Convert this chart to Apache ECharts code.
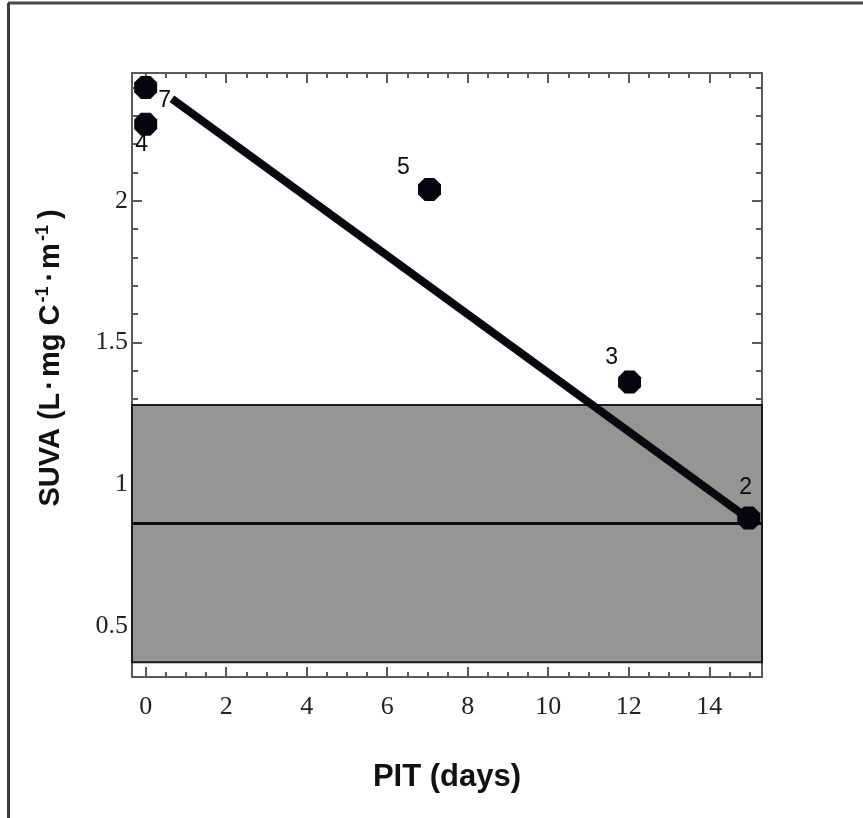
<!DOCTYPE html>
<html>
<head>
<meta charset="utf-8">
<script src="https://cdn.jsdelivr.net/npm/echarts@6/dist/echarts.min.js"></script>
<style>
html,body{margin:0;padding:0;background:#fff;}
#chart{width:863px;height:818px;}
</style>
</head>
<body>
<div id="chart"></div>
<script>
// ---- data ----
const pitDays   = [0, 0, 7.05, 12.02, 14.98];
const suvaVals  = [2.40, 2.27, 2.04, 1.36, 0.88];
const pointIds  = ['7', '4', '5', '3', '2'];
const fitLine   = [[0.65, 2.36], [15.0, 0.875]];
const bandRange = [0.371, 1.279];
const refLevel  = 0.863;
const xTickLabels = [0, 2, 4, 6, 8, 10, 12, 14];
const yTickLabels = [0.5, 1, 1.5, 2];
const X_MIN = -0.34, X_MAX = 15.31;
const Y_MIN = 0.319, Y_MAX = 2.451;

// minor tick positions
const xMinor = [];
for (let i = 0; i <= 30; i++) xMinor.push(i * 0.5);
const yMinor = [];
for (let i = 4; i <= 24; i++) yMinor.push(Math.round(i) / 10);

// label placement (styles, not data)
const labelOffsets = [[19, 13], [-4, 20], [-26, -22], [-18, -24], [-3, -30]];

const axisColor = '#5a5a5a';
const serif = '"Liberation Serif","Times New Roman",serif';
const sans = '"Liberation Sans",Arial,sans-serif';

function xAx(pos, major, showLabel, withName) {
  const a = {
    type: 'value', position: pos, min: X_MIN, max: X_MAX,
    splitLine: {show: false},
    axisLine: {show: major, onZero: false, lineStyle: {color: axisColor, width: 2}},
    axisTick: {show: true, inside: true, length: major ? 10 : 5,
      customValues: major ? xTickLabels : xMinor,
      lineStyle: {color: axisColor, width: 2}},
    axisLabel: showLabel ? {show: true, customValues: xTickLabels, margin: 17,
      fontFamily: serif, fontSize: 26, color: '#222'} : {show: false}
  };
  if (withName) {
    a.name = 'PIT (days)';
    a.nameLocation = 'middle';
    a.nameGap = 85;
    a.nameTextStyle = {fontFamily: sans, fontWeight: 'bold', fontSize: 31, color: '#111'};
  }
  return a;
}
function yAx(pos, major, showLabel, withName) {
  const a = {
    type: 'value', position: pos, min: Y_MIN, max: Y_MAX,
    splitLine: {show: false},
    axisLine: {show: major, onZero: false, lineStyle: {color: axisColor, width: 2}},
    axisTick: {show: true, inside: true, length: major ? 10 : 6,
      customValues: major ? yTickLabels : yMinor,
      lineStyle: {color: axisColor, width: 2}},
    axisLabel: showLabel ? {show: true, customValues: yTickLabels, margin: 4,
      fontFamily: serif, fontSize: 26, color: '#222'} : {show: false}
  };
  if (withName) {
    a.name = '{a|SUVA (L}{d|·}{a|mg C}{s|-1}{d|·}{a|m}{s|-1}{p|)}';
    a.nameLocation = 'middle';
    a.nameGap = 64;
    a.nameRotate = 90;
    const base = {fontFamily: sans, fontWeight: 'bold', fontSize: 29, color: '#111', lineHeight: 34};
    a.nameTextStyle = {
      padding: [0, 0, 0, 34],
      rich: {
        a: base,
        d: Object.assign({}, base, {padding: [0, 3, 0, 3]}),
        p: Object.assign({}, base, {padding: [0, 0, 0, 4]}),
        s: {fontFamily: sans, fontWeight: 'bold', fontSize: 18, color: '#111', lineHeight: 34,
            verticalAlign: 'top', padding: [0, 2, 0, 2]}
      }
    };
  }
  return a;
}

const octagon = 'path://M29 0L71 0L100 29L100 71L71 100L29 100L0 71L0 29Z';

const scatterData = pitDays.map((x, i) => ({
  value: [x, suvaVals[i]],
  label: {show: true, formatter: pointIds[i], position: 'inside', offset: labelOffsets[i]}
}));

const option = {
  animation: false,
  backgroundColor: '#ffffff',
  grid: {left: 132, top: 73, right: 101, bottom: 141, containLabel: false},
  xAxis: [xAx('bottom', true, true, true), xAx('bottom', false, false, false),
          xAx('top', true, false, false), xAx('top', false, false, false)],
  yAxis: [yAx('left', true, true, true), yAx('left', false, false, false),
          yAx('right', true, false, false), yAx('right', false, false, false)],
  graphic: [
    {type: 'line', shape: {x1: 8, y1: 3, x2: 863, y2: 3}, style: {stroke: '#4a4a4a', lineWidth: 3}},
    {type: 'line', shape: {x1: 8.5, y1: 3, x2: 8.5, y2: 818}, style: {stroke: '#3a3a44', lineWidth: 3}}
  ],
  series: [
    {
      type: 'line', xAxisIndex: 0, yAxisIndex: 0, z: 3,
      data: [],
      markArea: {
        silent: true,
        itemStyle: {color: '#969593', borderColor: '#1a1a1a', borderWidth: 2},
        data: [[{yAxis: bandRange[0]}, {yAxis: bandRange[1]}]]
      },
      markLine: {
        silent: true, symbol: 'none', label: {show: false},
        lineStyle: {color: '#0a0a12', width: 3, type: 'solid'},
        data: [{yAxis: refLevel}]
      }
    },
    {
      type: 'line', xAxisIndex: 0, yAxisIndex: 0, z: 4,
      data: fitLine, symbol: 'none',
      lineStyle: {color: '#08080f', width: 8, cap: 'butt'}
    },
    {
      type: 'scatter', xAxisIndex: 0, yAxisIndex: 0, z: 5,
      symbol: octagon, symbolSize: 23,
      itemStyle: {color: '#060610', opacity: 1},
      label: {fontFamily: sans, fontSize: 23, color: '#0a0a0a'},
      data: scatterData
    }
  ]
};

const chart = echarts.init(document.getElementById('chart'), null, {renderer: 'canvas'});
chart.setOption(option);
</script>
</body>
</html>
